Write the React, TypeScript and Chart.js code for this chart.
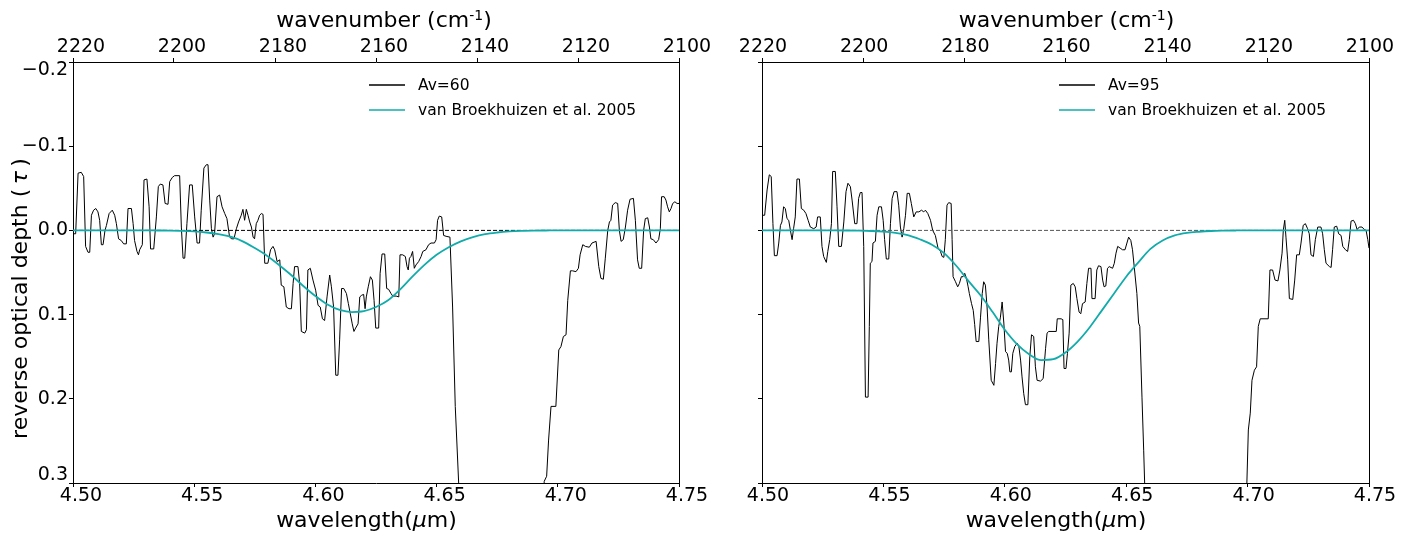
import React, { useEffect, useRef } from 'react';
import { Chart, registerables } from 'chart.js';

Chart.register(...registerables);

// ---------- data (wavelength in micron, reverse optical depth tau) ----------
const av60: number[][] = [
  [4.5000,0.004],[4.5011,0.004],[4.5021,-0.068],[4.5034,-0.069],[4.5044,-0.064],[4.5052,0.019],[4.5062,0.026],[4.5069,0.026],[4.5076,-0.018],[4.5085,-0.024],
  [4.5094,-0.026],[4.5103,-0.022],[4.5110,-0.012],[4.5117,0.017],[4.5124,0.017],[4.5132,0.000],[4.5138,-0.006],[4.5149,-0.020],[4.5162,-0.024],[4.5172,-0.018],
  [4.5179,-0.008],[4.5188,0.010],[4.5199,0.012],[4.5209,0.016],[4.5220,0.016],[4.5227,-0.026],[4.5241,-0.026],[4.5248,-0.008],[4.5254,0.012],[4.5264,0.025],
  [4.5270,0.029],[4.5275,0.023],[4.5286,0.017],[4.5293,-0.060],[4.5305,-0.061],[4.5314,-0.028],[4.5320,0.022],[4.5333,0.022],[4.5344,-0.016],[4.5352,-0.052],
  [4.5360,-0.055],[4.5371,-0.054],[4.5380,-0.032],[4.5392,-0.031],[4.5399,-0.058],[4.5410,-0.063],[4.5419,-0.065],[4.5440,-0.065],[4.5447,-0.004],[4.5454,0.033],
  [4.5461,0.033],[4.5470,-0.008],[4.5481,-0.054],[4.5492,-0.054],[4.5502,-0.016],[4.5512,0.015],[4.5522,0.015],[4.5529,-0.024],[4.5540,-0.074],[4.5550,-0.078],
  [4.5557,-0.078],[4.5564,-0.036],[4.5571,-0.002],[4.5578,0.008],[4.5584,0.004],[4.5594,-0.040],[4.5605,-0.042],[4.5615,-0.028],[4.5626,-0.020],[4.5635,-0.014],
  [4.5646,0.008],[4.5655,0.010],[4.5664,0.010],[4.5674,-0.002],[4.5683,-0.010],[4.5694,-0.018],[4.5701,-0.025],[4.5708,-0.012],[4.5715,-0.025],[4.5722,-0.018],
  [4.5729,-0.010],[4.5736,-0.004],[4.5743,0.008],[4.5749,0.010],[4.5756,-0.008],[4.5763,-0.012],[4.5770,-0.018],[4.5777,-0.020],[4.5784,-0.019],[4.5791,0.039],
  [4.5804,0.039],[4.5815,0.023],[4.5825,0.019],[4.5832,0.023],[4.5842,0.037],[4.5853,0.035],[4.5859,0.065],[4.5870,0.067],[4.5880,0.091],[4.5891,0.093],
  [4.5901,0.093],[4.5908,0.063],[4.5914,0.043],[4.5928,0.043],[4.5935,0.063],[4.5942,0.120],[4.5956,0.122],[4.5963,0.118],[4.5969,0.047],[4.5979,0.045],
  [4.5990,0.059],[4.6001,0.071],[4.6011,0.089],[4.6020,0.091],[4.6029,0.105],[4.6038,0.107],[4.6048,0.079],[4.6059,0.053],[4.6066,0.067],[4.6075,0.091],
  [4.6084,0.172],[4.6093,0.172],[4.6100,0.130],[4.6108,0.069],[4.6117,0.069],[4.6128,0.075],[4.6136,0.087],[4.6144,0.099],[4.6152,0.111],[4.6159,0.120],
  [4.6166,0.116],[4.6176,0.111],[4.6183,0.079],[4.6191,0.077],[4.6199,0.076],[4.6205,0.093],[4.6210,0.079],[4.6218,0.067],[4.6227,0.055],[4.6235,0.059],
  [4.6242,0.083],[4.6249,0.116],[4.6261,0.116],[4.6267,0.051],[4.6275,0.028],[4.6286,0.028],[4.6294,0.069],[4.6302,0.070],[4.6312,0.075],[4.6319,0.078],
  [4.6333,0.078],[4.6344,0.079],[4.6349,0.029],[4.6360,0.029],[4.6371,0.031],[4.6378,0.043],[4.6383,0.047],[4.6388,0.033],[4.6394,0.031],[4.6401,0.025],
  [4.6408,0.045],[4.6415,0.041],[4.6426,0.037],[4.6436,0.031],[4.6443,0.025],[4.6456,0.023],[4.6467,0.017],[4.6477,0.015],[4.6491,0.015],[4.6498,0.011],
  [4.6504,-0.012],[4.6511,-0.017],[4.6521,-0.016],[4.6529,0.006],[4.6539,0.007],[4.6555,0.008],[4.6566,0.091],[4.6577,0.209],[4.6591,0.300],[4.6610,0.42],
  [4.6650,0.50],[4.6700,0.55],[4.6800,0.58],[4.6900,0.52],[4.6930,0.40],[4.6944,0.298],[4.6954,0.292],[4.6962,0.249],[4.6972,0.209],[4.6992,0.209],
  [4.7004,0.142],[4.7013,0.138],[4.7023,0.126],[4.7034,0.124],[4.7041,0.083],[4.7052,0.048],[4.7061,0.048],[4.7075,0.049],[4.7085,0.045],[4.7092,0.029],
  [4.7103,0.017],[4.7114,0.019],[4.7130,0.020],[4.7141,0.015],[4.7158,0.013],[4.7169,0.043],[4.7178,0.057],[4.7188,0.058],[4.7196,0.033],[4.7206,0.000],
  [4.7213,-0.010],[4.7219,-0.012],[4.7226,-0.030],[4.7237,-0.033],[4.7247,-0.032],[4.7254,0.000],[4.7261,0.013],[4.7270,0.011],[4.7279,-0.004],[4.7288,-0.024],
  [4.7298,-0.037],[4.7312,-0.038],[4.7320,-0.012],[4.7329,0.035],[4.7336,0.045],[4.7346,0.045],[4.7354,0.000],[4.7361,-0.014],[4.7371,-0.015],[4.7378,-0.004],
  [4.7384,0.010],[4.7394,0.011],[4.7405,0.015],[4.7416,0.011],[4.7423,-0.002],[4.7428,-0.040],[4.7439,-0.040],[4.7446,-0.036],[4.7453,-0.028],[4.7460,-0.022],
  [4.7467,-0.026],[4.7474,-0.032],[4.7483,-0.034],[4.7492,-0.032],[4.7500,-0.032],
];

const av95: number[][] = [
  [4.5000,-0.018],[4.5011,-0.018],[4.5021,-0.048],[4.5030,-0.066],[4.5038,-0.064],[4.5045,-0.008],[4.5051,0.030],[4.5062,0.030],[4.5069,0.015],[4.5076,-0.006],
  [4.5082,-0.010],[4.5089,-0.028],[4.5096,-0.026],[4.5103,-0.014],[4.5110,-0.012],[4.5117,0.000],[4.5124,0.011],[4.5130,-0.002],[4.5137,-0.016],[4.5144,-0.061],
  [4.5154,-0.061],[4.5162,-0.026],[4.5172,-0.024],[4.5181,-0.020],[4.5190,-0.012],[4.5199,-0.004],[4.5213,-0.002],[4.5223,-0.004],[4.5229,-0.016],[4.5240,-0.016],
  [4.5247,0.019],[4.5254,0.031],[4.5265,0.038],[4.5271,0.025],[4.5279,0.011],[4.5286,-0.008],[4.5291,-0.070],[4.5302,-0.070],[4.5309,-0.028],[4.5316,0.019],
  [4.5327,0.019],[4.5337,-0.010],[4.5346,-0.046],[4.5354,-0.056],[4.5364,-0.052],[4.5371,-0.036],[4.5382,-0.008],[4.5391,-0.008],[4.5398,-0.038],[4.5405,-0.045],
  [4.5412,-0.045],[4.5419,0.019],[4.5426,0.198],[4.5437,0.198],[4.5442,0.114],[4.5446,0.039],[4.5453,0.037],[4.5457,0.015],[4.5467,0.013],[4.5474,-0.018],
  [4.5481,-0.028],[4.5492,-0.028],[4.5499,-0.012],[4.5505,0.011],[4.5512,0.034],[4.5522,0.034],[4.5529,-0.008],[4.5536,-0.038],[4.5544,-0.046],[4.5556,-0.046],
  [4.5563,-0.030],[4.5570,-0.004],[4.5577,0.008],[4.5584,-0.002],[4.5591,-0.018],[4.5598,-0.044],[4.5607,-0.044],[4.5615,-0.032],[4.5625,-0.016],[4.5635,-0.022],
  [4.5646,-0.022],[4.5657,-0.024],[4.5666,-0.022],[4.5673,-0.024],[4.5683,-0.020],[4.5694,-0.012],[4.5703,0.000],[4.5714,0.006],[4.5725,0.021],[4.5735,0.025],
  [4.5742,0.031],[4.5749,0.032],[4.5755,0.011],[4.5762,-0.030],[4.5769,-0.033],[4.5779,-0.032],[4.5783,0.011],[4.5787,0.055],[4.5797,0.061],[4.5806,0.067],
  [4.5813,0.063],[4.5821,0.055],[4.5828,0.055],[4.5835,0.051],[4.5842,0.057],[4.5849,0.067],[4.5854,0.075],[4.5863,0.087],[4.5870,0.095],[4.5876,0.112],
  [4.5882,0.132],[4.5893,0.132],[4.5900,0.103],[4.5907,0.075],[4.5913,0.061],[4.5920,0.065],[4.5927,0.091],[4.5934,0.130],[4.5944,0.178],[4.5955,0.184],
  [4.5962,0.158],[4.5968,0.134],[4.5975,0.114],[4.5982,0.103],[4.5989,0.085],[4.5996,0.110],[4.6003,0.144],[4.6010,0.146],[4.6016,0.154],[4.6021,0.168],
  [4.6027,0.168],[4.6033,0.146],[4.6041,0.138],[4.6051,0.134],[4.6058,0.138],[4.6065,0.154],[4.6071,0.174],[4.6078,0.194],[4.6085,0.207],[4.6095,0.207],
  [4.6103,0.150],[4.6110,0.124],[4.6119,0.126],[4.6126,0.162],[4.6133,0.178],[4.6147,0.179],[4.6158,0.176],[4.6168,0.140],[4.6174,0.122],[4.6181,0.120],
  [4.6212,0.120],[4.6216,0.105],[4.6232,0.105],[4.6239,0.106],[4.6244,0.164],[4.6252,0.164],[4.6258,0.146],[4.6265,0.122],[4.6272,0.065],[4.6282,0.063],
  [4.6290,0.067],[4.6297,0.081],[4.6306,0.097],[4.6313,0.099],[4.6320,0.087],[4.6331,0.085],[4.6338,0.063],[4.6345,0.045],[4.6355,0.045],[4.6359,0.081],
  [4.6372,0.081],[4.6379,0.047],[4.6386,0.042],[4.6396,0.043],[4.6403,0.059],[4.6409,0.067],[4.6416,0.066],[4.6423,0.045],[4.6430,0.043],[4.6444,0.045],
  [4.6451,0.039],[4.6458,0.027],[4.6465,0.019],[4.6475,0.021],[4.6485,0.023],[4.6495,0.023],[4.6503,0.015],[4.6510,0.008],[4.6519,0.012],[4.6526,0.023],
  [4.6533,0.043],[4.6544,0.075],[4.6551,0.110],[4.6556,0.114],[4.6565,0.198],[4.6572,0.261],[4.6576,0.300],[4.6600,0.45],[4.6650,0.55],[4.6750,0.60],
  [4.6850,0.58],[4.6950,0.50],[4.6985,0.36],[4.6997,0.300],[4.7003,0.237],[4.7011,0.217],[4.7018,0.178],[4.7028,0.166],[4.7037,0.162],[4.7044,0.114],
  [4.7052,0.105],[4.7085,0.105],[4.7092,0.047],[4.7103,0.047],[4.7113,0.059],[4.7125,0.060],[4.7133,0.047],[4.7142,0.027],[4.7147,0.000],[4.7153,-0.012],
  [4.7158,0.008],[4.7165,0.035],[4.7172,0.081],[4.7186,0.082],[4.7194,0.059],[4.7202,0.029],[4.7213,0.029],[4.7220,0.015],[4.7229,-0.006],[4.7238,-0.008],
  [4.7247,-0.002],[4.7254,0.004],[4.7261,0.029],[4.7271,0.031],[4.7279,0.011],[4.7289,-0.004],[4.7302,-0.004],[4.7309,0.004],[4.7316,0.023],[4.7323,0.039],
  [4.7337,0.043],[4.7344,0.044],[4.7350,0.023],[4.7357,-0.004],[4.7367,-0.005],[4.7375,0.004],[4.7385,0.006],[4.7392,0.019],[4.7403,0.023],[4.7412,0.025],
  [4.7419,0.011],[4.7426,-0.011],[4.7436,-0.012],[4.7444,-0.008],[4.7451,-0.001],[4.7460,-0.004],[4.7471,-0.004],[4.7481,-0.001],[4.7488,0.000],[4.7495,0.011],
  [4.7500,0.021],
];

// van Broekhuizen et al. 2005 model profiles
const model60: number[][] = [
  [4.500,0],[4.530,0],[4.535,0.0001],[4.540,0.0002],[4.545,0.0005],[4.550,0.0012],[4.555,0.0025],[4.560,0.0045],[4.565,0.0075],[4.570,0.013],
  [4.575,0.021],[4.580,0.030],[4.585,0.041],[4.590,0.053],[4.595,0.066],[4.600,0.078],[4.605,0.088],[4.610,0.0945],[4.615,0.097],[4.620,0.096],
  [4.625,0.091],[4.630,0.083],[4.635,0.070],[4.640,0.055],[4.645,0.041],[4.650,0.029],[4.655,0.020],[4.660,0.013],[4.665,0.008],[4.670,0.0045],
  [4.675,0.0025],[4.680,0.0012],[4.685,0.0005],[4.690,0.0002],[4.695,0.0001],[4.700,0],[4.750,0],
];
const model95: number[][] = [
  [4.500,0],[4.530,0],[4.535,0.0001],[4.540,0.0003],[4.545,0.0007],[4.550,0.0015],[4.555,0.003],[4.560,0.0055],[4.565,0.0105],[4.570,0.017],
  [4.575,0.027],[4.580,0.042],[4.585,0.060],[4.590,0.077],[4.595,0.097],[4.600,0.118],[4.605,0.135],[4.610,0.147],[4.615,0.154],[4.620,0.153],
  [4.625,0.145],[4.630,0.132],[4.635,0.115],[4.640,0.095],[4.645,0.075],[4.650,0.055],[4.655,0.038],[4.660,0.022],[4.665,0.012],[4.670,0.006],
  [4.675,0.003],[4.680,0.0016],[4.685,0.0007],[4.690,0.0003],[4.695,0.0001],[4.700,0],[4.750,0],
];

const zeroLine: number[][] = [[4.5, 0], [4.75, 0]];

const wavelengthTicks = [4.5, 4.55, 4.6, 4.65, 4.7, 4.75];
const wavenumberTicks = [2220, 2200, 2180, 2160, 2140, 2120, 2100];
const tauTicks = [-0.2, -0.1, 0, 0.1, 0.2, 0.3];

// ---------- styling ----------
const FONT = "'DejaVu Sans', 'Verdana', sans-serif";
const TEAL = '#12abab';
const TITLE = `22px ${FONT}`;
const TITLE_IT = `italic 22px ${FONT}`;
const SUP = `14px ${FONT}`;

Chart.defaults.font.family = FONT;
Chart.defaults.color = '#000';

function fmtTau(v: number): string | string[] {
  const r = Math.round(v * 10) / 10;
  const s = Math.abs(r) < 1e-9 ? '0.0' : (r < 0 ? '\u2212' + Math.abs(r).toFixed(1) : r.toFixed(1));
  if (r <= -0.15) return ['', s];
  if (r >= 0.25) return [s, ''];
  return s;
}

type Seg = { text: string; font: string; rise?: number };

function drawRich(ctx: CanvasRenderingContext2D, segs: Seg[], cx: number, cy: number, rotate: boolean) {
  ctx.save();
  ctx.translate(cx, cy);
  if (rotate) ctx.rotate(-Math.PI / 2);
  ctx.textBaseline = 'alphabetic';
  ctx.textAlign = 'left';
  ctx.fillStyle = '#000';
  let total = 0;
  const widths = segs.map((s) => {
    ctx.font = s.font;
    const w = ctx.measureText(s.text).width;
    total += w;
    return w;
  });
  let x = -total / 2;
  segs.forEach((s, i) => {
    ctx.font = s.font;
    ctx.fillText(s.text, x, -(s.rise || 0));
    x += widths[i];
  });
  ctx.restore();
}

const titlesPlugin = {
  id: 'panelTitles',
  afterDraw(chart: any, _args: any, opts: any) {
    const { ctx, chartArea } = chart;
    const midX = (chartArea.left + chartArea.right) / 2;
    const midY = (chartArea.top + chartArea.bottom) / 2;
    drawRich(ctx, [
      { text: 'wavenumber (cm', font: TITLE },
      { text: '-1', font: SUP, rise: 7 },
      { text: ')', font: TITLE },
    ], midX + opts.topShift, 27, false);
    drawRich(ctx, [
      { text: 'wavelength(', font: TITLE },
      { text: '\u03bc', font: TITLE_IT },
      { text: 'm)', font: TITLE },
    ], midX + opts.bottomShift, 527, false);
    if (opts.showY) {
      drawRich(ctx, [
        { text: 'reverse optical depth (\u2009', font: TITLE },
        { text: '\u03c4', font: TITLE_IT },
        { text: '\u2009)', font: TITLE },
      ], 27, midY + opts.yShift, true);
    }
  },
};

const legendPlugin = {
  id: 'panelLegend',
  afterDraw(chart: any, _args: any, opts: any) {
    const { ctx, chartArea } = chart;
    const items = (opts && opts.items) || [];
    ctx.save();
    ctx.font = `15.5px ${FONT}`;
    ctx.textBaseline = 'middle';
    ctx.textAlign = 'left';
    items.forEach((it: any, i: number) => {
      const y = chartArea.top + 23 + i * 25;
      const x0 = chartArea.right - 310;
      ctx.strokeStyle = it.color;
      ctx.lineWidth = 1.5;
      ctx.beginPath();
      ctx.moveTo(x0, y);
      ctx.lineTo(x0 + 36, y);
      ctx.stroke();
      ctx.fillStyle = '#000';
      ctx.fillText(it.label, x0 + 49, y + 0.5);
    });
    ctx.restore();
  },
};

const framePlugin = {
  id: 'panelFrame',
  afterDraw(chart: any) {
    const { ctx, chartArea } = chart;
    ctx.save();
    ctx.strokeStyle = '#000';
    ctx.lineWidth = 1;
    const x = Math.round(chartArea.right) + 0.5;
    ctx.beginPath();
    ctx.moveTo(x, chartArea.top);
    ctx.lineTo(x, chartArea.bottom + 0.5);
    ctx.stroke();
    ctx.restore();
  },
};

type PanelProps = {
  series: number[][];
  model: number[][];
  label: string;
  zeroColor: string;
  showY: boolean;
  left: number;
  width: number;
  yAxisWidth: number;
  padRight: number;
  xLabelOffset: number;
  x2LabelOffset: number;
};

const toXY = (arr: number[][]) => arr.map(([x, y]) => ({ x, y }));

function Panel(p: PanelProps) {
  const ref = useRef<HTMLCanvasElement>(null);
  useEffect(() => {
    const canvas = ref.current;
    if (!canvas) return;
    const tickFont = { family: FONT, size: 19 };
    const grid = {
      display: true, drawOnChartArea: false, drawTicks: true, tickLength: 4,
      color: '#000', tickColor: '#000', tickWidth: 1, lineWidth: 1,
    };
    const border = { display: true, color: '#000', width: 1 };
    const chart = new Chart(canvas, {
      type: 'line',
      data: {
        datasets: [
          {
            label: 'van Broekhuizen et al. 2005', data: toXY(p.model), borderColor: TEAL,
            borderWidth: 1.8, pointRadius: 0, cubicInterpolationMode: 'monotone', order: 0,
          },
          {
            label: 'zero', data: toXY(zeroLine), borderColor: p.zeroColor, borderWidth: 1,
            borderDash: [4, 2], pointRadius: 0, order: 1,
          },
          {
            label: p.label, data: toXY(p.series), borderColor: '#000', borderWidth: 1,
            pointRadius: 0, tension: 0, order: 2,
          },
        ],
      } as any,
      options: {
        responsive: false,
        maintainAspectRatio: false,
        animation: false,
        events: [],
        layout: { padding: { left: 0, right: p.padRight, top: 0, bottom: 0 } },
        plugins: {
          legend: { display: false },
          tooltip: { enabled: false },
          panelLegend: { items: [{ label: p.label, color: '#000' }, { label: 'van Broekhuizen et al. 2005', color: TEAL }] },
          panelTitles: { topShift: p.x2LabelOffset, bottomShift: -9.5, yShift: 26, showY: p.showY },
        } as any,
        scales: {
          x: {
            type: 'linear', position: 'bottom', min: 4.5, max: 4.75,
            afterBuildTicks: (s: any) => { s.ticks = wavelengthTicks.map((v) => ({ value: v })); },
            afterFit: (s: any) => { s.height = 56; },
            ticks: {
              callback: (v: any) => Number(v).toFixed(2), font: tickFont, color: '#000',
              padding: -2, labelOffset: p.xLabelOffset, maxRotation: 0, minRotation: 0, autoSkip: false,
            },
            grid, border,
            title: { display: false },
          },
          x2: {
            type: 'linear', position: 'top', min: 2100, max: 2220, reverse: true,
            afterBuildTicks: (s: any) => { s.ticks = wavenumberTicks.map((v) => ({ value: v })); },
            afterFit: (s: any) => { s.height = 62; },
            ticks: {
              callback: (v: any) => String(Math.round(Number(v))), font: tickFont, color: '#000',
              padding: 0, labelOffset: p.x2LabelOffset, maxRotation: 0, minRotation: 0, autoSkip: false,
            },
            grid, border,
            title: { display: false },
          },
          y: {
            type: 'linear', position: 'left', min: -0.2, max: 0.3, reverse: true,
            afterBuildTicks: (s: any) => { s.ticks = tauTicks.map((v) => ({ value: v })); },
            afterFit: (s: any) => { s.width = p.yAxisWidth; },
            ticks: {
              display: p.showY,
              callback: (v: any) => fmtTau(Number(v)),
              font: (ctx: any) => {
                const v = ctx.tick ? ctx.tick.value : 0;
                return { family: FONT, size: 19, lineHeight: (v <= -0.15 || v >= 0.25) ? 0.842 : 1.2 };
              },
              color: '#000', padding: 1, autoSkip: false,
            },
            grid, border,
            title: { display: false },
          },
        } as any,
      },
      plugins: [legendPlugin as any, framePlugin as any, titlesPlugin as any],
    });
    return () => chart.destroy();
  }, []);
  return (
    <canvas
      ref={ref}
      width={p.width}
      height={539}
      style={{ position: 'absolute', left: p.left, top: 0, width: p.width, height: 539 }}
    />
  );
}

export default function App() {
  return (
    <div style={{ position: 'absolute', left: 0, top: 0, width: 1413, height: 539, background: '#fff' }}>
      <Panel series={av60} model={model60} label="Av=60" zeroColor="#000" showY={true}
        left={0} width={720} yAxisWidth={73} padRight={41} xLabelOffset={8} x2LabelOffset={8} />
      <Panel series={av95} model={model95} label="Av=95" zeroColor="#555" showY={false}
        left={720} width={693} yAxisWidth={42} padRight={44} xLabelOffset={6} x2LabelOffset={1} />
    </div>
  );
}
